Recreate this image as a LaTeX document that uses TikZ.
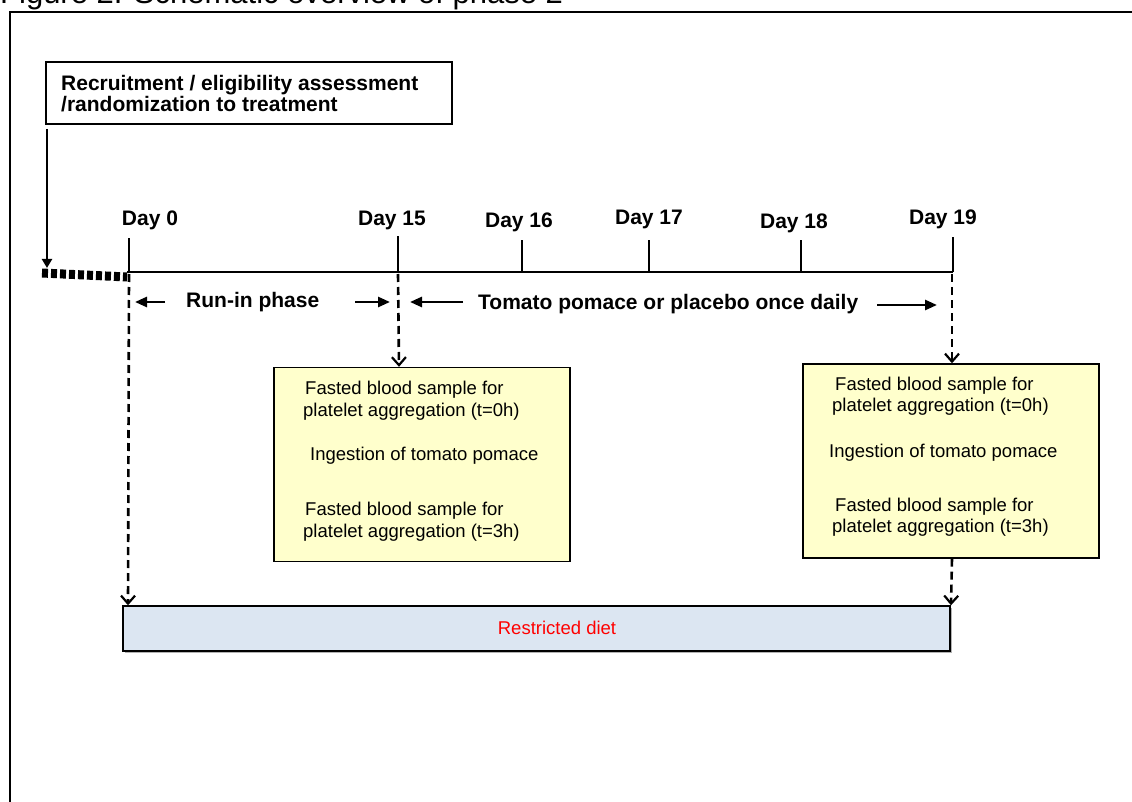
\documentclass[tikz,border=0pt]{standalone}
\usepackage{fontspec}
\setmainfont{Liberation Sans}
\usetikzlibrary{arrows.meta}
\definecolor{boxyellow}{RGB}{255,255,204}
\definecolor{dietblue}{RGB}{220,230,242}
\definecolor{diettext}{RGB}{255,0,0}
\begin{document}
\begin{tikzpicture}[x=1pt,y=-1pt,
  boldlbl/.style={font=\fontsize{21}{21}\selectfont\bfseries, inner sep=0pt},
  smalllbl/.style={font=\fontsize{18.5}{21}\selectfont, inner sep=0pt, anchor=base west},
  daylbl/.style={boldlbl, anchor=base},
  tickline/.style={line width=1.3pt},
  dasharrow/.style={line width=2.6pt, dash pattern=on 8pt off 5pt, -{Straight Barb[length=8pt,width=14pt,line width=2.2pt]}},
  solidarrow/.style={line width=2.6pt, -{Triangle[length=12pt,width=10pt]}},
  panel/.style={draw, line width=1.4pt, fill=boxyellow, minimum width=296pt, minimum height=194pt, inner sep=0pt}
]
\useasboundingbox (0,0) rectangle (1132,802);
\clip (0,0) rectangle (1132,802);
\fill[white] (0,0) rectangle (1132,802);

% title (cut off at top)
\node[anchor=base west, font=\fontsize{31}{31}\selectfont, inner sep=0pt] (title) at (0,4) {Figure 2. Schematic overview of phase 2};

% frame
\draw[line width=2.2pt] (1140,12) -- (10,12) -- (10,810);

% recruitment box
\node[draw, line width=1.4pt, minimum width=406pt, minimum height=62pt, inner sep=0pt] (recruit) at (249,93) {};
\node[boldlbl, anchor=base west] (rec1) at (61,91) {Recruitment / eligibility assessment};
\node[boldlbl, anchor=base west] (rec2) at (61,112) {/randomization to treatment};

% arrow from recruitment
\coordinate (rstart) at (47,129);
\coordinate (rend) at (47,268);
\draw[line width=2.6pt, -{Triangle[length=9pt,width=10pt]}] (rstart) -- (rend);

% thick dotted lead-in
\coordinate (lead0) at (42,273);
\coordinate (lead1) at (127,277);
\draw[line width=9pt, dash pattern=on 6pt off 3pt] (lead0) -- (lead1);

% timeline
\coordinate (tl0) at (127,272);
\coordinate (tl19) at (953,272);
\draw[line width=1.6pt] (tl0) -- (tl19);

\coordinate (d0) at (129,272);   \coordinate (d0t) at (129,238);
\coordinate (d15) at (398,272);  \coordinate (d15t) at (398,236);
\coordinate (d16) at (522,272);  \coordinate (d16t) at (522,240);
\coordinate (d17) at (649,272);  \coordinate (d17t) at (649,240);
\coordinate (d18) at (801,272);  \coordinate (d18t) at (801,240);
\coordinate (d19) at (953,272);  \coordinate (d19t) at (953,237);
\foreach \n in {d0,d15,d16,d17,d18,d19} { \draw[tickline] (\n) -- (\n t); }

% day labels
\node[daylbl] (l0) at (150,226) {Day 0};
\node[daylbl] (l15) at (392,226) {Day 15};
\node[daylbl] (l16) at (519,228) {Day 16};
\node[daylbl] (l17) at (649,225) {Day 17};
\node[daylbl] (l18) at (794,229) {Day 18};
\node[daylbl] (l19) at (943,225) {Day 19};

% phase labels with arrows
\node[boldlbl, anchor=base west] (runin) at (186,308) {Run-in phase};
\coordinate (ra1) at (165,302); \coordinate (ra1t) at (135,302);
\coordinate (ra2) at (355,302); \coordinate (ra2t) at (390,302);
\draw[solidarrow] (ra1) -- (ra1t);
\draw[solidarrow] (ra2) -- (ra2t);

\node[boldlbl, anchor=base west] (tomato) at (478,309) {Tomato pomace or placebo once daily};
\coordinate (ta1) at (463,302); \coordinate (ta1t) at (410,302);
\coordinate (ta2) at (877,305); \coordinate (ta2t) at (937,305);
\draw[solidarrow] (ta1) -- (ta1t);
\draw[solidarrow] (ta2) -- (ta2t);

% yellow panels
\node[panel] (boxA) at (422,464.5) {};
\node[panel] (boxB) at (951,461) {};

\node[smalllbl] (a1) at (305,394) {Fasted blood sample for};
\node[smalllbl] (a2) at (303,416) {platelet aggregation (t=0h)};
\node[smalllbl] (a3) at (310,460) {Ingestion of tomato pomace};
\node[smalllbl] (a4) at (305,515) {Fasted blood sample for};
\node[smalllbl] (a5) at (303,537) {platelet aggregation (t=3h)};

\node[smalllbl] (b1) at (835,390) {Fasted blood sample for};
\node[smalllbl] (b2) at (832,411) {platelet aggregation (t=0h)};
\node[smalllbl] (b3) at (829,457) {Ingestion of tomato pomace};
\node[smalllbl] (b4) at (835,511) {Fasted blood sample for};
\node[smalllbl] (b5) at (832,532) {platelet aggregation (t=3h)};

% restricted diet
\fill[gray!60] (125,608) rectangle (952,653);
\node[draw, line width=1.4pt, fill=dietblue, minimum width=827pt, minimum height=45pt, inner sep=0pt] (diet) at (536.5,628.5) {};
\node[font=\fontsize{18.5}{21}\selectfont, text=diettext, inner sep=0pt] (dietlbl) at (557,628) {Restricted diet};

% dashed arrows
\draw[dasharrow] (d0 |- 0,274) -- (diet.north west -| 128,0);
\draw[dasharrow] (398,274) -- (boxA.north -| 399,0);
\draw[dasharrow] (952,274) -- (boxB.north -| 952,0);
\draw[dasharrow] (boxB.south -| 952,0) -- (diet.north east -| 951,0);
\end{tikzpicture}
\end{document}
